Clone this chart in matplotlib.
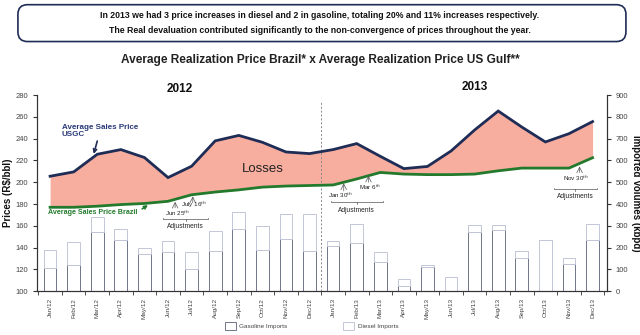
import numpy as np
import matplotlib
matplotlib.use("Agg")
import matplotlib.pyplot as plt
from matplotlib.patches import FancyBboxPatch, Patch

plt.rcParams['font.family'] = ['Liberation Sans', 'DejaVu Sans']

months = ['Jan/12', 'Feb/12', 'Mar/12', 'Apr/12', 'May/12', 'Jun/12',
          'Jul/12', 'Aug/12', 'Sep/12', 'Oct/12', 'Nov/12', 'Dec/12',
          'Jan/13', 'Feb/13', 'Mar/13', 'Apr/13', 'May/13', 'Jun/13',
          'Jul/13', 'Aug/13', 'Sep/13', 'Oct/13', 'Nov/13', 'Dec/13']

# prices (R$/bbl)
usgc_price = [205.5, 209.5, 225.7, 230, 222.7, 204.3, 214.7, 238, 243, 236.7, 227.8, 226.3,
              230, 235.5, 223.8, 212.5, 214.5, 228.7, 248, 265.4, 250.7, 237, 244.6, 255.7]
brazil_price = [177, 177, 178, 179.5, 180.5, 182.5, 188.5, 191, 193, 195.5, 196.5, 197,
                197.5, 203, 209, 207.5, 207, 207, 207.5, 210.5, 213, 213, 213, 222.5]

# imported volumes (kbpd)
gasoline_imports = [105, 120, 270, 235, 170, 178, 103, 183, 285, 190, 240, 185,
                    208, 220, 133, 23, 112, 0, 271, 279, 153, 0, 124, 236]
total_imports = [190, 225, 340, 285, 200, 230, 180, 275, 365, 300, 355, 355,
                 230, 309, 181, 55, 121, 64, 303, 305, 184, 236, 152, 308]
diesel_imports = [t - g for t, g in zip(total_imports, gasoline_imports)]

navy = '#1f2d56'
green = '#237a2c'
salmon = '#f8ae9f'

fig = plt.figure(figsize=(6.4, 3.35), dpi=100)
fig.patch.set_facecolor('white')

# headline box
box = FancyBboxPatch((0.028, 0.876), 0.950, 0.110, transform=fig.transFigure,
                     boxstyle='round,pad=0,rounding_size=0.015', facecolor='white',
                     edgecolor=navy, linewidth=1.2, mutation_aspect=1.9)
fig.patches.append(box)
fig.text(0.5, 0.953, 'In 2013 we had 3 price increases in diesel and 2 in gasoline, totaling 20% and 11% increases respectively.',
         ha='center', va='center', fontsize=6.3, fontweight='bold', color='#111111')
fig.text(0.5, 0.910, 'The Real devaluation contributed significantly to the non-convergence of prices throughout the year.',
         ha='center', va='center', fontsize=6.3, fontweight='bold', color='#111111')
fig.text(0.5, 0.820, 'Average Realization Price Brazil* x Average Realization Price US Gulf**',
         ha='center', va='center', fontsize=8.6, fontweight='bold', color='#222222')

ax = fig.add_axes([0.058, 0.131, 0.890, 0.585])
ax2 = ax.twinx()
x = np.arange(len(months))

# bars on the volume axis
ax2.bar(x, gasoline_imports, width=0.54, facecolor='white', edgecolor='#6f7488', linewidth=0.7, zorder=2)
ax2.bar(x, diesel_imports, width=0.54, bottom=gasoline_imports, facecolor='white',
        edgecolor='#c3c6d6', linewidth=0.7, zorder=2)
ax2.set_ylim(0, 900)
ax2.set_yticks(np.arange(0, 901, 100))

# price lines drawn on top of the bars
ax.set_zorder(ax2.get_zorder() + 1)
ax.patch.set_visible(False)
ax.fill_between(x, brazil_price, usgc_price, color=salmon, linewidth=0, zorder=1)
ax.plot(x, usgc_price, color=navy, linewidth=2.0, zorder=3, solid_joinstyle='miter')
ax.plot(x, brazil_price, color=green, linewidth=2.0, zorder=3)
ax.set_ylim(100, 280)
ax.set_yticks(np.arange(100, 281, 20))
ax.set_xlim(-0.55, 23.6)
ax.set_xticks(x)
ax.set_xticklabels(months, rotation=90, fontsize=4.6, color='#444444')
ax.set_xticks(np.arange(-0.5, 23.6, 1), minor=True)
ax.tick_params(axis='x', which='major', length=0, pad=5)
ax.tick_params(axis='x', which='minor', length=3, direction='out', color='#333333')
ax.tick_params(axis='y', labelsize=5.5, labelcolor='#444444', length=3, color='#333333')
ax2.tick_params(axis='y', labelsize=5.5, labelcolor='#444444', length=3, color='#333333')

for a in (ax, ax2):
    a.spines['top'].set_visible(False)
    for s in ('left', 'right', 'bottom'):
        a.spines[s].set_color('#333333')
        a.spines[s].set_linewidth(0.8)

ax.axvline(11.5, ymin=0, ymax=0.97, color='#888888', linestyle=(0, (2, 2)), linewidth=0.7)

ax.set_ylabel('Prices (R$/bbl)', fontsize=7, fontweight='bold', color='#111111', labelpad=2)
ax2.set_ylabel('Imported Volumes (kbpd)', fontsize=7, fontweight='bold', color='#111111',
               rotation=270, labelpad=9)

ax.text(5.5, 1.03, '2012', transform=ax.get_xaxis_transform(), ha='center', va='center',
        fontsize=8.5, fontweight='bold', color='#111111')
ax.text(18, 1.04, '2013', transform=ax.get_xaxis_transform(), ha='center', va='center',
        fontsize=8.5, fontweight='bold', color='#111111')

ax.annotate('Average Sales Price\nUSGC', xy=(1.85, 226), xytext=(0.5, 247),
            fontsize=5.8, fontweight='bold', color='#2a3a78', ha='left', va='center',
            linespacing=1.1,
            arrowprops=dict(arrowstyle='->', color=navy, lw=1.2, shrinkA=0, shrinkB=0))
ax.annotate('Average Sales Price Brazil', xy=(4.15, 179), xytext=(-0.1, 172.5),
            fontsize=5.1, fontweight='bold', color=green, ha='left', va='center',
            arrowprops=dict(arrowstyle='->', color=green, lw=1.2, shrinkA=2, shrinkB=0,
                            relpos=(1, 0.5)))
ax.text(9.0, 212.5, 'Losses', fontsize=9.5, color='#222222', ha='center', va='center')


def adjust(ax, arrows, left, right, ybar, label):
    for xa, ytop, ybot, lab, xl, yl in arrows:
        ax.annotate('', xy=(xa, ytop), xytext=(xa, ybot),
                    arrowprops=dict(arrowstyle='->', color='#555555', lw=0.5,
                                    shrinkA=0, shrinkB=0))
        ax.text(xl, yl, lab, fontsize=4.5, color='#222222', ha='center', va='center')
    mid = (left + right) / 2
    ax.plot([left, left, right, right], [ybar + 1.2, ybar, ybar, ybar + 1.2],
            color='#555555', lw=0.5)
    ax.plot([mid, mid], [ybar, ybar - 1.2], color='#555555', lw=0.5)
    ax.text(mid, ybar - 7, label, fontsize=4.8, color='#222222', ha='center', va='center')


adjust(ax, [(5.3, 182, 176.5, 'Jun 25$^{th}$', 5.4, 171.5),
            (6.05, 187, 181, 'July 16$^{th}$', 6.1, 179)],
       4.8, 6.7, 166, 'Adjustments')
adjust(ax, [(12.45, 199, 192, 'Jan 30$^{th}$', 12.3, 187.5),
            (13.5, 206, 200, 'Mar 6$^{th}$', 13.55, 195.5)],
       11.9, 14.1, 181.5, 'Adjustments')
adjust(ax, [(22.45, 214.5, 209, 'Nov 30$^{th}$', 22.3, 203.5)],
       21.35, 23.2, 193.5, 'Adjustments')

handles = [Patch(facecolor='white', edgecolor='#6f7488', linewidth=0.7, label='Gasoline Imports'),
           Patch(facecolor='white', edgecolor='#c3c6d6', linewidth=0.7, label='Diesel Imports')]
fig.legend(handles=handles, loc='center', bbox_to_anchor=(0.487, 0.027), ncol=2,
           frameon=False, fontsize=4.6, columnspacing=8.7, handlelength=1.7, handleheight=1.4,
           handletextpad=0.6, labelcolor='#444444')

fig.savefig('out.png', dpi=100, facecolor='white')
